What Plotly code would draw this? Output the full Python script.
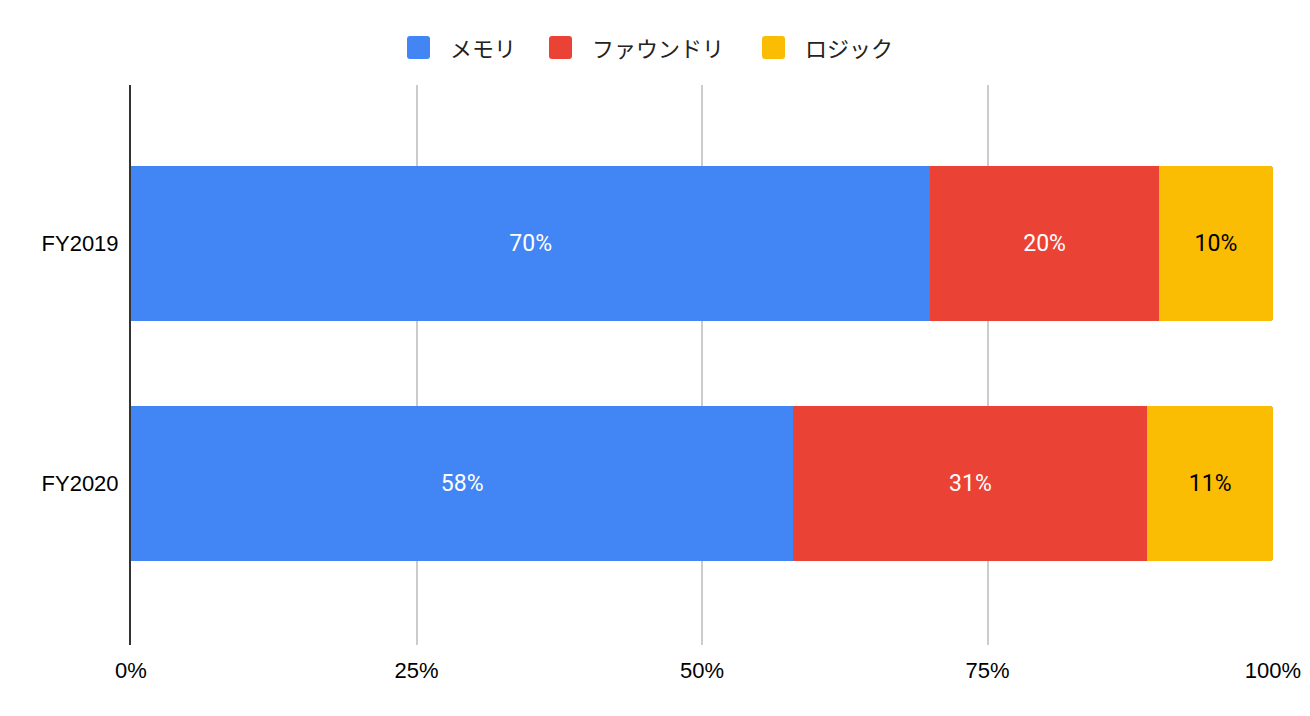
import plotly.graph_objects as go

categories = ["FY2019", "FY2020"]
series_names = ["メモリ", "ファウンドリ", "ロジック"]
memory = [70, 58]
foundry = [20, 31]
logic = [10, 11]
tick_vals = [0, 25, 50, 75, 100]
tick_text = ["0%", "25%", "50%", "75%", "100%"]

colors = ["#4285F4", "#EA4335", "#FBBC04"]
text_colors = ["#FFFFFF", "#FFFFFF", "#000000"]

W, H = 1310, 716
ML, MR, MT, MB = 131, 37, 85, 71
PW, PH = W - ML - MR, H - MT - MB

def px_x(px):
    return (px - ML) / PW

def px_y(py):
    return (H - MB - py) / PH

fig = go.Figure()
for name, vals, c, tc in zip(series_names, [memory, foundry, logic], colors, text_colors):
    fig.add_trace(go.Bar(
        y=categories, x=vals, name=name, orientation="h",
        marker=dict(color=c, line=dict(width=0)),
        text=[f"{v}%" for v in vals], textposition="inside",
        insidetextanchor="middle",
        textfont=dict(color=tc, size=23, family="Roboto", weight="normal"),
        hoverinfo="skip", showlegend=False,
    ))

# Manual legend (larger rounded squares like the reference)
legend_sq_x = [407, 549, 762]
legend_txt_x = [448, 590, 803]
shapes = []
annotations = []
for name, c, sx, tx in zip(series_names, colors, legend_sq_x, legend_txt_x):
    x0, x1 = px_x(sx), px_x(sx + 23)
    y0, y1 = px_y(59), px_y(36)
    r = 3 / PW
    ry = 3 / PH
    path = (f"M {x0+r},{y1} L {x1-r},{y1} Q {x1},{y1} {x1},{y1-ry} "
            f"L {x1},{y0+ry} Q {x1},{y0} {x1-r},{y0} L {x0+r},{y0} "
            f"Q {x0},{y0} {x0},{y0+ry} L {x0},{y1-ry} Q {x0},{y1} {x0+r},{y1} Z")
    shapes.append(dict(type="path", xref="paper", yref="paper", path=path,
                       fillcolor=c, line=dict(width=0)))
    annotations.append(dict(
        x=px_x(tx), y=px_y(47), xref="paper", yref="paper",
        xanchor="left", yanchor="middle", showarrow=False, text=name,
        font=dict(family="Noto Sans CJK JP", size=22, color="#222222"),
    ))

fig.update_layout(
    barmode="stack",
    bargap=0.354,
    barcornerradius=3,
    width=W, height=H,
    margin=dict(l=ML, r=MR, t=MT, b=MB, autoexpand=False),
    paper_bgcolor="white", plot_bgcolor="white",
    font=dict(family="Liberation Sans, Arial", size=22, color="#000000"),
    uniformtext=dict(mode="show", minsize=22),
    showlegend=False,
    shapes=shapes,
    annotations=annotations,
    xaxis=dict(
        range=[0, 100], tickvals=tick_vals, ticktext=tick_text,
        showgrid=True, gridcolor="#CCCCCC", gridwidth=1.5,
        zeroline=False, showline=False, ticks="", ticklabelstandoff=10,
        tickfont=dict(size=22, family="Liberation Sans, Arial"),
        automargin=False, fixedrange=True,
    ),
    yaxis=dict(
        type="category", categoryorder="array", categoryarray=categories,
        range=[1.6729, -0.6604],
        showline=True, linecolor="#333333", linewidth=2,
        showgrid=False, ticks="", ticklabelstandoff=6,
        tickfont=dict(size=22, family="Liberation Sans, Arial"),
        automargin=False, fixedrange=True,
    ),
)

fig.write_html("out.html")
